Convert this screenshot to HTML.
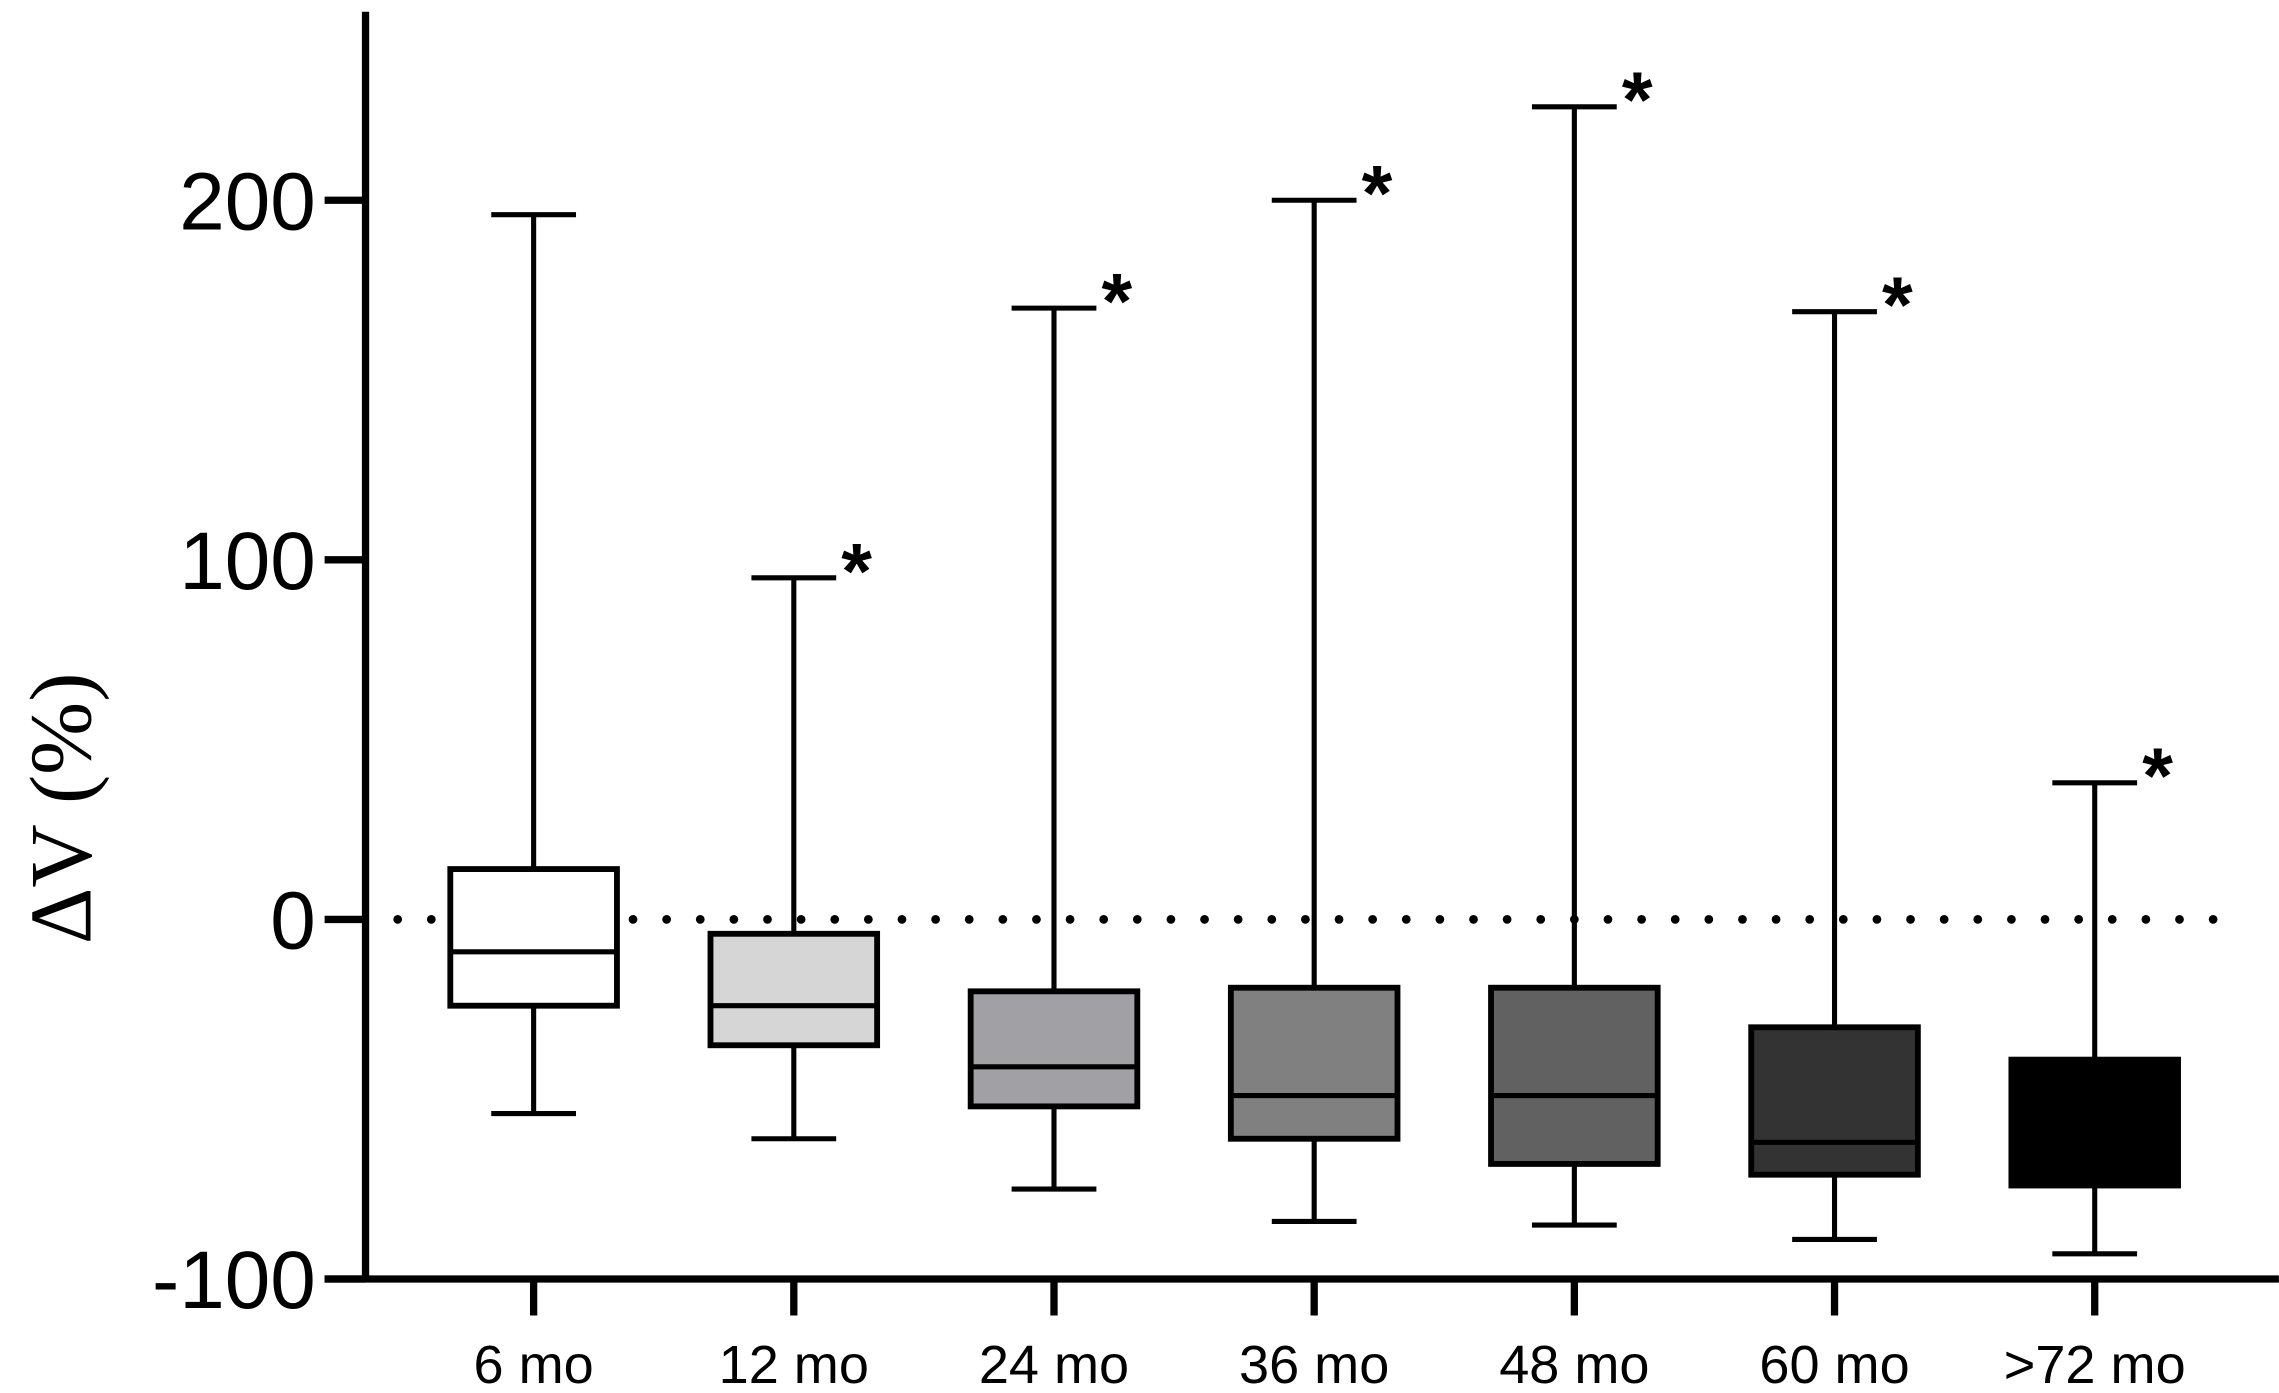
<!DOCTYPE html>
<html><head><meta charset="utf-8"><style>
html,body{margin:0;padding:0;background:#fff;}
svg{display:block;}
text{font-family:"Liberation Sans",Arial,sans-serif;fill:#000;}
</style></head><body>
<svg id="chart" width="2279" height="1393" viewBox="0 0 1559 953" xmlns="http://www.w3.org/2000/svg"></svg>
<script>
const categories = ["6 mo","12 mo","24 mo","36 mo","48 mo","60 mo",">72 mo"];
const maxVals = [196, 95, 170, 200, 226, 169, 38];
const q3Vals = [14, -4, -20, -19, -19, -30, -39];
const medVals = [-9, -24, -41, -49, -49, -62, -60];
const q1Vals = [-24, -35, -52, -61, -68, -71, -74];
const minVals = [-54, -61, -75, -84, -85, -89, -93];
const signif = [false, true, true, true, true, true, true];
const fills = ["#ffffff","#d6d6d6","#a1a1a5","#808080","#616161","#333333","#000000"];
const yTicks = [200, 100, 0, -100];

const svg = document.getElementById('chart');
const NS = "http://www.w3.org/2000/svg";
const y = v => 629 - v * 2.46;
const x = i => 365 + i * 178;
function mk(tag, attrs, parent) {
  const e = document.createElementNS(NS, tag);
  for (const k in attrs) e.setAttribute(k, attrs[k]);
  (parent || svg).appendChild(e);
  return e;
}
const zl = mk('line', {x1: 272, x2: 1535, y1: y(0), y2: y(0), stroke: '#000', 'stroke-width': 6, 'stroke-linecap': 'round', 'stroke-dasharray': '0 23'});



categories.forEach((c, i) => {
  const g = mk('g', {});
  
  
  const cx = x(i), hw = 57, cw = 29;
  mk('line', {x1: cx, x2: cx, y1: y(maxVals[i]), y2: y(q3Vals[i]), stroke: '#000', 'stroke-width': 3.5}, g);
  mk('line', {x1: cx, x2: cx, y1: y(q1Vals[i]), y2: y(minVals[i]), stroke: '#000', 'stroke-width': 3.5}, g);
  mk('line', {x1: cx - cw, x2: cx + cw, y1: y(maxVals[i]), y2: y(maxVals[i]), stroke: '#000', 'stroke-width': 3.5}, g);
  mk('line', {x1: cx - cw, x2: cx + cw, y1: y(minVals[i]), y2: y(minVals[i]), stroke: '#000', 'stroke-width': 3.5}, g);
  mk('rect', {x: cx - hw, y: y(q3Vals[i]), width: hw * 2, height: y(q1Vals[i]) - y(q3Vals[i]), fill: fills[i], stroke: '#000', 'stroke-width': 4}, g);
  mk('line', {x1: cx - hw, x2: cx + hw, y1: y(medVals[i]), y2: y(medVals[i]), stroke: '#000', 'stroke-width': 3.5}, g);
  if (signif[i]) {
    const s = mk('text', {x: cx + 43, y: y(maxVals[i]) + 14, 'font-size': 54, 'font-weight': 'bold', 'text-anchor': 'middle'});
    s.textContent = '*';
    
    
  }
  const t = mk('line', {x1: cx, x2: cx, y1: 875, y2: 900, stroke: '#000', 'stroke-width': 5});
  
  
  const l = mk('text', {x: cx, y: 946, 'font-size': 37, 'text-anchor': 'middle'});
  l.textContent = c;
  
  
});

yTicks.forEach(v => {
  const t = mk('line', {x1: 222, x2: 250, y1: y(v), y2: y(v), stroke: '#000', 'stroke-width': 5});
  
  
  const l = mk('text', {x: 216, y: y(v) + 20, 'font-size': 56, 'text-anchor': 'end'});
  l.textContent = v;
  
  
});

const ya = mk('line', {x1: 250, x2: 250, y1: 8, y2: 877, stroke: '#000', 'stroke-width': 5});


const xa = mk('line', {x1: 222, x2: 1559, y1: 875, y2: 875, stroke: '#000', 'stroke-width': 5});


const yt = mk('text', {x: 0, y: 0, 'font-size': 60, 'text-anchor': 'middle', transform: 'translate(62,553) rotate(-90)', style: 'font-family:"Liberation Serif","Times New Roman",serif'});
yt.textContent = 'ΔV (%)';


</script>
</body></html>
